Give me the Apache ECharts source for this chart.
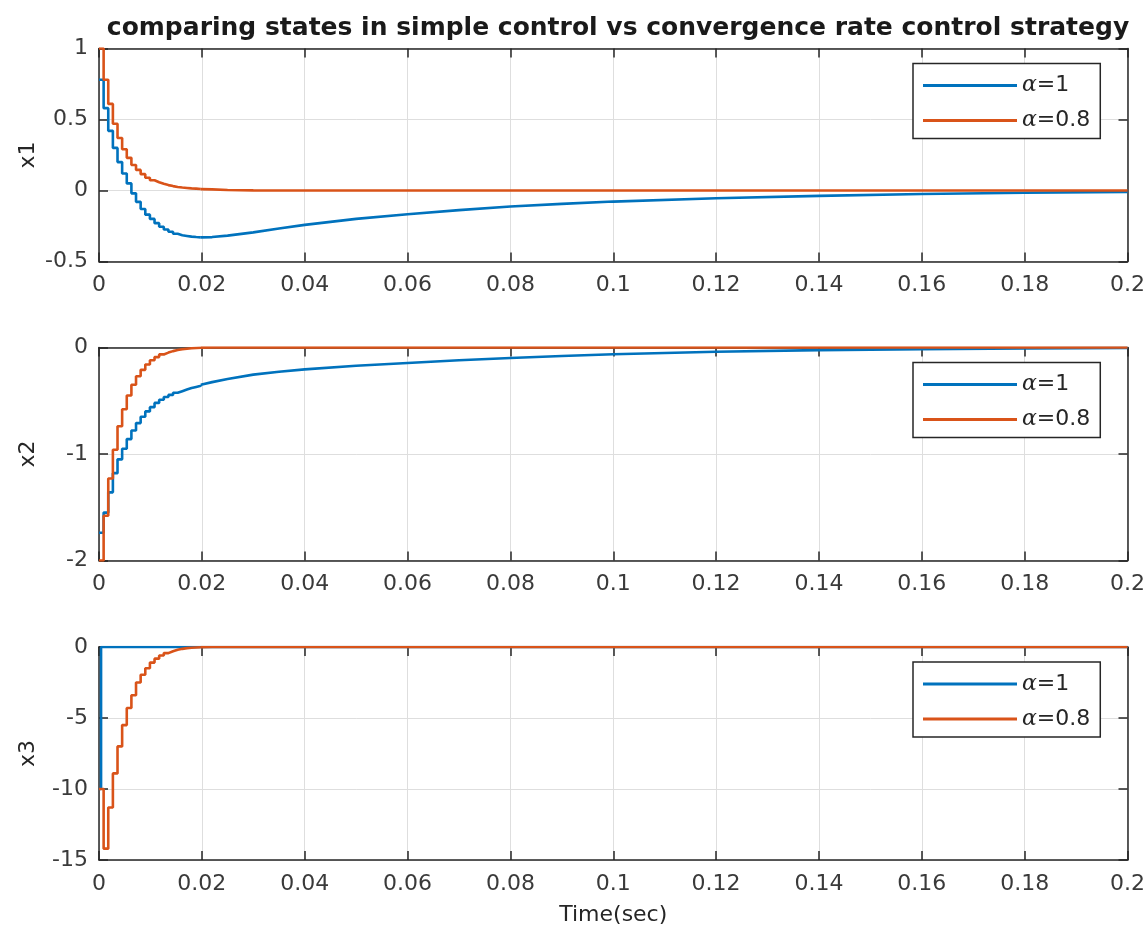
<!DOCTYPE html>
<html>
<head>
<meta charset="utf-8">
<script src="https://cdn.jsdelivr.net/npm/echarts@6/dist/echarts.min.js"></script>
<style>
html,body{margin:0;padding:0;background:#fff;}
#chart{width:1148px;height:940px;}
</style>
</head>
<body>
<div id="chart"></div>
<script>
// ---- data ----
const titleText = 'comparing states in simple control vs convergence rate control strategy';
const seriesNames = ['α=1', 'α=0.8'];
const xTicks = [0, 0.02, 0.04, 0.06, 0.08, 0.1, 0.12, 0.14, 0.16, 0.18, 0.2];

// sampled (staircase) part, time in seconds
const t_step = [0, 0.0009, 0.0018, 0.0027, 0.0036, 0.0045, 0.0054, 0.0063, 0.0072, 0.0081, 0.009, 0.0099,
  0.0108, 0.0117, 0.0126, 0.0135, 0.0144, 0.0153, 0.0162, 0.0171, 0.018, 0.0189, 0.0198];
// slowly varying part
const t_tail = [0.0198, 0.022, 0.025, 0.03, 0.035, 0.04, 0.05, 0.06, 0.07, 0.08, 0.09, 0.1, 0.12, 0.14, 0.16, 0.18, 0.2];

// x1
const x1_a1_step = [0.78, 0.58, 0.42, 0.3, 0.2, 0.12, 0.05, -0.02, -0.08, -0.13, -0.17, -0.2, -0.23, -0.255,
  -0.275, -0.29, -0.305, -0.315, -0.32, -0.325, -0.328, -0.33, -0.33];
const x1_a1_tail = [-0.33, -0.328, -0.318, -0.295, -0.268, -0.242, -0.2, -0.167, -0.138, -0.113, -0.094, -0.078,
  -0.055, -0.038, -0.025, -0.016, -0.01];
const x1_a08_step = [1.0, 0.78, 0.61, 0.47, 0.37, 0.29, 0.23, 0.18, 0.145, 0.115, 0.09, 0.072, 0.058, 0.047,
  0.038, 0.031, 0.025, 0.021, 0.018, 0.015, 0.013, 0.011, 0.01];
const x1_a08_tail = [0.01, 0.008, 0.004, 0.001, 0, 0, 0, 0, 0, 0, 0, 0, 0, 0, 0, 0, 0];

// x2
const x2_a1_step = [-1.74, -1.55, -1.36, -1.18, -1.05, -0.95, -0.86, -0.78, -0.71, -0.65, -0.6, -0.56, -0.52,
  -0.49, -0.465, -0.445, -0.425, -0.41, -0.395, -0.38, -0.37, -0.36, -0.35];
const x2_a1_tail = [-0.35, -0.325, -0.295, -0.255, -0.228, -0.205, -0.172, -0.145, -0.12, -0.098, -0.08, -0.064,
  -0.04, -0.025, -0.015, -0.008, -0.004];
const x2_a08_step = [-2.0, -1.58, -1.23, -0.96, -0.74, -0.58, -0.45, -0.35, -0.27, -0.21, -0.16, -0.12, -0.09,
  -0.065, -0.048, -0.034, -0.024, -0.016, -0.011, -0.007, -0.004, -0.002, -0.001];
const x2_a08_tail = [-0.001, 0, 0, 0, 0, 0, 0, 0, 0, 0, 0, 0, 0, 0, 0, 0, 0];

// x3
const t_x3_a1 = [0, 0.0004, 0.0198];
const x3_a1_step = [-10, 0, 0];
const x3_a1_tail = [0, 0, 0, 0, 0, 0, 0, 0, 0, 0, 0, 0, 0, 0, 0, 0, 0];
const x3_a08_step = [-10.0, -14.2, -11.3, -8.9, -7.0, -5.5, -4.3, -3.4, -2.5, -1.95, -1.5, -1.1, -0.82, -0.6,
  -0.43, -0.3, -0.2, -0.13, -0.08, -0.05, -0.03, -0.02, -0.01];
const x3_a08_tail = [-0.01, -0.005, -0.002, 0, 0, 0, 0, 0, 0, 0, 0, 0, 0, 0, 0, 0, 0];

const yNames = ['x1', 'x2', 'x3'];
const yRanges = [[-0.5, 1, 0.5], [-2, 0, 1], [-15, 0, 5]];
const xName = 'Time(sec)';

// ---- styling / layout ----
const BLUE = '#0072BD', ORANGE = '#D95319';
const AX = '#262626', LBL = '#3a3a3a', GRIDC = '#dedede';
const FONT = 'DejaVu Sans';
const FS = 22;
const gridTops = [48.5, 347.5, 647];
const GH = 213;

function zip(t, v) { return t.map((x, i) => [x, v[i]]); }

const grids = [], xAxes = [], yAxes = [], series = [], legends = [];
const curves = [
  [[t_step, x1_a1_step, x1_a1_tail], [t_step, x1_a08_step, x1_a08_tail]],
  [[t_step, x2_a1_step, x2_a1_tail], [t_step, x2_a08_step, x2_a08_tail]],
  [[t_x3_a1, x3_a1_step, x3_a1_tail], [t_step, x3_a08_step, x3_a08_tail]]
];

const lineAx = { show: true, onZero: false, lineStyle: { color: AX, width: 1.5 } };
const tickAx = { show: true, inside: true, length: 9, lineStyle: { color: AX, width: 1.5 } };

for (let g = 0; g < 3; g++) {
  grids.push({ left: 99, width: 1030, top: gridTops[g], height: GH, containLabel: false });
  const xb = {
    type: 'value', gridIndex: g, min: 0, max: 0.2, interval: 0.02, position: 'bottom',
    axisLine: lineAx, axisTick: tickAx,
    axisLabel: { show: true, margin: 13, color: LBL, fontSize: FS, fontFamily: FONT,
      formatter: v => String(Math.round(v * 100) / 100) },
    splitLine: { show: true, lineStyle: { color: GRIDC, width: 1 } }
  };
  if (g === 2) {
    xb.name = xName; xb.nameLocation = 'middle'; xb.nameGap = 44; xb.nameMoveOverlap = false;
    xb.nameTextStyle = { color: AX, fontSize: FS, fontFamily: FONT };
  }
  xAxes.push(xb);
  xAxes.push({
    type: 'value', gridIndex: g, min: 0, max: 0.2, interval: 0.02, position: 'top',
    axisLine: lineAx, axisTick: tickAx,
    axisLabel: { show: false }, splitLine: { show: false }
  });
  const r = yRanges[g];
  yAxes.push({
    type: 'value', gridIndex: g, min: r[0], max: r[1], interval: r[2], position: 'left',
    name: yNames[g], nameLocation: 'middle', nameGap: 60, nameRotate: 90, nameMoveOverlap: false,
    nameTextStyle: { color: AX, fontSize: FS, fontFamily: FONT },
    axisLine: lineAx, axisTick: tickAx,
    axisLabel: { show: true, margin: 11, color: LBL, fontSize: FS, fontFamily: FONT },
    splitLine: { show: true, lineStyle: { color: GRIDC, width: 1 } }
  });
  yAxes.push({
    type: 'value', gridIndex: g, min: r[0], max: r[1], interval: r[2], position: 'right',
    axisLine: lineAx, axisTick: tickAx,
    axisLabel: { show: false }, splitLine: { show: false }
  });

  const colors = [BLUE, ORANGE];
  for (let c = 0; c < 2; c++) {
    const [ts, vs, vt] = curves[g][c];
    const common = {
      type: 'line', name: seriesNames[c], xAxisIndex: 2 * g, yAxisIndex: 2 * g,
      showSymbol: false, symbol: 'none', silent: true, z: 3 + c,
      lineStyle: { color: colors[c], width: 2.6 }, itemStyle: { color: colors[c] }
    };
    series.push(Object.assign({}, common, { step: 'end', data: zip(ts, vs) }));
    series.push(Object.assign({}, common, { data: zip(t_tail, vt) }));
  }

  legends.push({
    data: seriesNames, orient: 'vertical', left: 913, top: gridTops[g] + 15,
    backgroundColor: '#fff', borderColor: AX, borderWidth: 1.5,
    padding: [11, 10, 7, 10], itemGap: 13, itemWidth: 94, itemHeight: 3, icon: 'rect',
    selectedMode: false,
    formatter: n => '{g|α}{n|' + n.slice(1) + '}',
    textStyle: {
      color: AX, fontSize: FS, lineHeight: 22, fontFamily: FONT,
      rich: {
        g: { fontFamily: 'DejaVu Serif', fontStyle: 'italic', fontSize: FS, color: AX, lineHeight: 22 },
        n: { fontFamily: FONT, fontSize: FS, color: AX, lineHeight: 22 }
      }
    }
  });
}

const chart = echarts.init(document.getElementById('chart'), null, { renderer: 'canvas' });
chart.setOption({
  backgroundColor: '#fff',
  animation: false,
  title: {
    text: titleText, left: 613, textAlign: 'center', top: 11,
    textStyle: { fontFamily: FONT, fontWeight: 'bold', fontSize: 25, color: '#1a1a1a' }
  },
  legend: legends,
  grid: grids,
  xAxis: xAxes,
  yAxis: yAxes,
  series: series
});
</script>
</body>
</html>
